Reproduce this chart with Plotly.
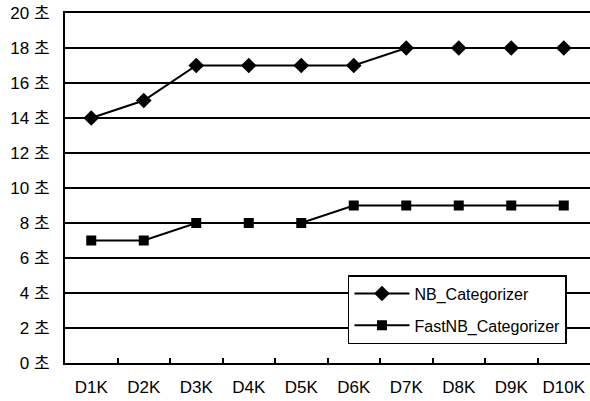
import plotly.graph_objects as go

categories = ["D1K", "D2K", "D3K", "D4K", "D5K", "D6K", "D7K", "D8K", "D9K", "D10K"]
nb_values = [14, 15, 17, 17, 17, 17, 18, 18, 18, 18]
fast_values = [7, 7, 8, 8, 8, 9, 9, 9, 9, 9]
y_tickvals = [0, 2, 4, 6, 8, 10, 12, 14, 16, 18, 20]
y_ticktext = [f"{v} 초" for v in y_tickvals]

font_family = "Liberation Sans, Noto Sans CJK KR, sans-serif"

fig = go.Figure()
fig.add_trace(go.Scatter(
    x=categories, y=nb_values, name="NB_Categorizer", mode="lines+markers",
    legendgroup="a",
    line=dict(color="black", width=2),
    marker=dict(symbol="diamond", size=12, color="black"),
))
fig.add_trace(go.Scatter(
    x=categories, y=fast_values, name="FastNB_Categorizer", mode="lines+markers",
    legendgroup="b",
    line=dict(color="black", width=2),
    marker=dict(symbol="square", size=10, color="black"),
))

fig.update_layout(
    width=590, height=401,
    margin=dict(l=65, r=0, t=13, b=38, autoexpand=False),
    paper_bgcolor="white", plot_bgcolor="white",
    font=dict(family=font_family, size=17, color="black"),
    showlegend=True,
    legend=dict(
        x=0.539, y=0.251, xanchor="left", yanchor="top",
        bordercolor="black", borderwidth=1.5, bgcolor="white",
        font=dict(size=16, family=font_family),
        tracegroupgap=8,
        itemwidth=55,
    ),
    xaxis=dict(
        type="category", range=[-0.5, 9.5], automargin=False,
        showline=True, linecolor="black", linewidth=2, mirror=True,
        showgrid=False, ticks="inside", tickson="boundaries",
        ticklen=5, tickwidth=1.5, tickcolor="black",
        tickfont=dict(size=17), tickangle=0, ticklabelstandoff=8,
    ),
    yaxis=dict(
        range=[0, 20], tickvals=y_tickvals, ticktext=y_ticktext, automargin=False,
        showline=True, linecolor="black", linewidth=2,
        showgrid=True, gridcolor="black", gridwidth=1.8,
        ticks="", tickfont=dict(size=17), ticklabelstandoff=10,
        zeroline=False,
    ),
)

fig.write_html("out.html", config={"displayModeBar": False},
               post_script="document.body.style.margin='0';")
